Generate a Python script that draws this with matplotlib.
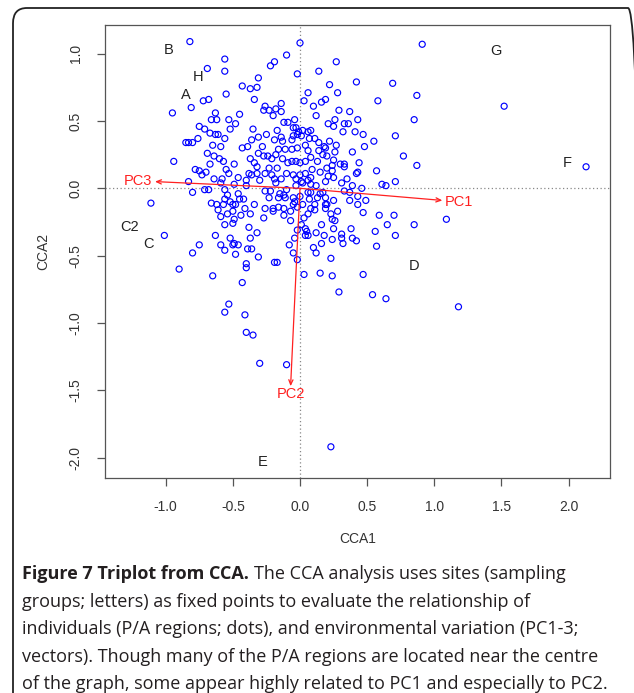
import numpy as np
import matplotlib
matplotlib.use('Agg')
import matplotlib.pyplot as plt
from matplotlib.patches import FancyBboxPatch

# pontos (regiões P/A), coordenadas CCA1 / CCA2
pts = [
  (-0.56,0.96),(-0.10,0.99),(-0.19,0.94),(-0.22,0.91),(-0.69,0.89),(-0.56,0.87),(-0.02,0.85),(-0.31,0.82),
  (-0.43,0.76),(-0.37,0.74),(-0.32,0.75),(-0.55,0.70),(-0.68,0.66),(-0.72,0.65),(-0.34,0.66),(-0.81,0.60),
  (-0.95,0.56),(-0.26,0.61),(-0.14,0.63),(-0.27,0.58),(-0.23,0.58),(-0.18,0.59),(-0.14,0.57),(-0.63,0.56),
  (-0.45,0.55),(-0.66,0.51),(-0.62,0.51),(-0.53,0.51),(-0.48,0.48),(-0.20,0.54),(-0.12,0.49),(-0.09,0.49),
  (-0.04,0.51),(-0.75,0.46),(-0.71,0.44),(-0.52,0.44),(-0.35,0.44),(-0.17,0.43),(-0.05,0.45),(-0.03,0.45),
  (-0.01,0.42),(-0.67,0.41),(-0.63,0.40),(-0.61,0.40),(-0.56,0.37),(-0.25,0.40),(-0.31,0.38),(-0.14,0.38),
  (-0.05,0.39),(-0.02,0.40),(-0.76,0.37),(-0.85,0.34),(-0.83,0.34),(-0.80,0.34),(-0.36,0.36),(-0.19,0.36),
  (-0.13,0.35),(-0.06,0.36),(-0.65,0.32),(-0.59,0.31),(-0.43,0.30),(-0.39,0.31),(-0.28,0.31),(-0.16,0.29),
  (-0.11,0.29),(-0.06,0.29),(-0.02,0.30),(-0.69,0.26),(-0.64,0.24),(-0.31,0.26),(-0.27,0.24),(-0.24,0.24),
  (-0.21,0.22),(-0.18,0.25),(-0.13,0.22),(-0.94,0.20),(-0.60,0.22),(-0.57,0.20),(-0.37,0.22),(-0.34,0.19),
  (-0.67,0.18),(-0.49,0.18),(-0.09,0.19),(-0.06,0.20),(-0.03,0.20),(0.00,0.19),(-0.17,0.15),(-0.23,0.15),
  (-0.32,0.16),(-0.78,0.14),(-0.75,0.13),(-0.73,0.10),(-0.70,0.12),(-0.55,0.14),(-0.38,0.11),(-0.36,0.10),
  (-0.32,0.11),(-0.26,0.11),(-0.21,0.10),(-0.10,0.11),(-0.05,0.10),(0.00,0.10),(-0.53,0.11),(-0.46,0.08),
  (-0.64,0.07),(-0.58,0.07),(-0.40,0.06),(-0.30,0.06),(-0.19,0.07),(-0.14,0.07),(-0.03,0.07),(-0.83,0.05),
  (-0.59,0.04),(-0.49,0.03),(-0.40,0.02),(-0.18,0.04),(-0.03,0.02),
  (0.27,0.94),(0.14,0.87),(0.22,0.77),(0.42,0.79),(0.69,0.78),(0.06,0.71),(0.28,0.71),(0.87,0.69),
  (0.03,0.65),(0.16,0.64),(0.19,0.66),(0.10,0.61),(0.58,0.65),(0.29,0.58),(0.37,0.57),(0.12,0.54),
  (0.85,0.51),(0.43,0.51),(0.26,0.51),(0.21,0.48),(0.25,0.46),(0.33,0.48),(0.36,0.48),(0.32,0.42),
  (0.41,0.42),(0.47,0.40),(0.71,0.39),(0.55,0.35),(0.48,0.31),(0.02,0.43),(0.06,0.42),(0.08,0.43),
  (0.01,0.39),(0.07,0.37),(0.11,0.37),(0.22,0.35),(0.27,0.32),(0.04,0.32),(0.14,0.34),(0.18,0.31),
  (0.06,0.28),(0.14,0.28),(0.19,0.30),(0.26,0.27),(0.39,0.27),(0.17,0.25),(0.77,0.24),(0.08,0.23),
  (0.13,0.20),(0.20,0.24),(0.25,0.21),(0.44,0.19),(0.87,0.17),(0.33,0.18),(0.30,0.18),(0.33,0.16),
  (0.24,0.17),(0.04,0.20),(0.09,0.14),(0.15,0.12),(0.20,0.15),(0.24,0.13),(0.42,0.11),(0.43,0.12),
  (0.57,0.13),(0.04,0.11),(0.08,0.08),(0.21,0.09),(0.25,0.08),(0.35,0.07),(0.01,0.05),(0.06,0.06),
  (0.19,0.05),(0.31,0.04),(0.71,0.05),(0.39,0.02),(0.61,0.03),(0.64,0.02),(0.08,0.03),(0.12,0.02),
  (0.02,0.04),
  (0.91,1.07),(1.52,0.61),(2.13,0.16),(1.09,-0.23),(0.00,1.08),(-0.82,1.09),(-1.11,-0.11),(1.18,-0.88),
  (0.23,-1.92),(-0.40,-1.07),(-0.35,-1.09),(-0.30,-1.30),(-0.10,-1.31),
  (0.33,-0.02),(0.37,-0.03),(0.46,0.00),(0.06,-0.03),(0.08,-0.03),(0.00,-0.06),(0.07,-0.08),(0.13,-0.07),
  (0.15,-0.04),(0.17,-0.03),(0.19,-0.07),(0.25,-0.09),(0.37,-0.09),(0.43,-0.06),(0.49,-0.09),(0.43,-0.12),
  (0.02,-0.12),(0.11,-0.12),(0.19,-0.12),(0.20,-0.12),(0.19,-0.15),(0.08,-0.15),(0.11,-0.16),(0.06,-0.19),
  (0.03,-0.22),(0.28,-0.17),(0.23,-0.19),(0.24,-0.23),(0.26,-0.24),(0.47,-0.18),(0.59,-0.20),(0.70,-0.20),
  (0.65,-0.27),(0.85,-0.27),(0.71,-0.35),(0.56,-0.32),(0.57,-0.43),(0.01,-0.27),(0.16,-0.27),(0.25,-0.30),
  (0.38,-0.30),(0.04,-0.30),(0.05,-0.32),(0.12,-0.33),(0.18,-0.35),(0.04,-0.35),(0.06,-0.35),(0.31,-0.34),
  (0.31,-0.37),(0.24,-0.38),(0.39,-0.37),(0.42,-0.39),(0.32,-0.41),(0.16,-0.41),(0.10,-0.44),(0.12,-0.48),
  (0.23,-0.52),(0.03,-0.64),(0.15,-0.63),(0.24,-0.65),(0.47,-0.64),(0.29,-0.77),(0.54,-0.79),(0.64,-0.82),
  (-0.80,-0.03),(-0.71,-0.01),(-0.68,-0.01),(-0.56,-0.01),(-0.46,-0.04),(-0.54,-0.05),(-0.56,-0.08),(-0.52,-0.10),
  (-0.50,-0.12),(-0.48,-0.12),(-0.45,-0.08),(-0.42,-0.08),(-0.66,-0.11),(-0.62,-0.12),(-0.61,-0.16),(-0.57,-0.12),
  (-0.41,-0.15),(-0.34,-0.12),(-0.26,-0.02),(-0.22,-0.02),(-0.15,-0.04),(-0.10,-0.01),(-0.23,-0.07),(-0.16,-0.07),
  (-0.12,-0.05),(-0.11,-0.07),(-0.05,-0.07),(-0.04,-0.10),(-0.05,-0.12),(-0.26,-0.15),(-0.20,-0.15),(-0.20,-0.17),
  (-0.16,-0.14),(-0.12,-0.15),(-0.07,-0.17),(-0.02,-0.14),(-0.50,-0.17),(-0.54,-0.19),(-0.44,-0.20),(-0.37,-0.19),
  (-0.59,-0.21),(-0.49,-0.23),(-0.50,-0.26),(-0.56,-0.27),(-0.27,-0.22),(-0.12,-0.20),(-0.07,-0.24),(-0.38,-0.29),
  (-0.02,-0.31),(-1.01,-0.35),(-0.63,-0.35),(-0.32,-0.33),(-0.37,-0.37),(-0.52,-0.37),(-0.04,-0.37),(-0.75,-0.42),
  (-0.59,-0.42),(-0.49,-0.41),(-0.46,-0.42),(-0.50,-0.42),(-0.08,-0.42),(-0.80,-0.48),(-0.56,-0.46),(-0.39,-0.45),
  (-0.36,-0.45),(-0.48,-0.49),(-0.05,-0.48),(-0.31,-0.51),(-0.19,-0.55),(-0.17,-0.55),(-0.02,-0.53),(-0.40,-0.56),
  (-0.40,-0.59),(-0.90,-0.60),(-0.65,-0.65),(-0.43,-0.70),(-0.53,-0.86),(-0.56,-0.92),(-0.41,-0.94),
]
px = np.array([p[0] for p in pts])
py = np.array([p[1] for p in pts])

# sites (grupos de amostragem)
sites = ['B', 'H', 'A', 'G', 'F', 'C2', 'C', 'D', 'E']
site_x = [-0.98, -0.76, -0.85, 1.46, 1.99, -1.27, -1.13, 0.85, -0.28]
site_y = [1.03, 0.83, 0.69, 1.02, 0.19, -0.29, -0.41, -0.58, -2.03]

# vetores ambientais
vec = ['PC1', 'PC2', 'PC3']
vec_x = [1.06, -0.07, -1.08]
vec_y = [-0.09, -1.47, 0.05]
vec_lx = [1.18, -0.07, -1.21]
vec_ly = [-0.10, -1.53, 0.056]

xticks = [-1.0, -0.5, 0.0, 0.5, 1.0, 1.5, 2.0]
yticks = [-2.0, -1.5, -1.0, -0.5, 0.0, 0.5, 1.0]

plt.rcParams['font.family'] = ['Liberation Sans', 'DejaVu Sans']

fig = plt.figure(figsize=(6.34, 6.93), dpi=100)
ax = fig.add_axes([0.1656, 0.3102, 0.7965, 0.6537])

ax.axhline(0, color='#888888', linestyle=(0, (1, 2)), linewidth=0.9, zorder=1)
ax.axvline(0, color='#888888', linestyle=(0, (1, 2)), linewidth=0.9, zorder=1)
ax.scatter(px, py, s=19, facecolors='none', edgecolors='#0000ff', linewidths=0.85, zorder=2)

for s, x, y in zip(sites, site_x, site_y):
  ax.text(x, y, s, ha='center', va='center', fontsize=10.5, color='#222222', zorder=3)

for v, x, y, lx, ly in zip(vec, vec_x, vec_y, vec_lx, vec_ly):
  ax.annotate('', xy=(x, y), xytext=(0, 0),
              arrowprops=dict(arrowstyle='->,head_length=0.35,head_width=0.15', color='#ff2020', lw=0.9, shrinkA=0, shrinkB=0), zorder=4)
  ax.text(lx, ly, v, ha='center', va='center', fontsize=10.5, color='#ff2020', zorder=4)

ax.set_xlim(-1.452, 2.308)
ax.set_ylim(-2.152, 1.213)
ax.set_xticks(xticks)
ax.set_yticks(yticks)
ax.set_xticklabels(['%.1f' % t for t in xticks])
ax.set_yticklabels(['%.1f' % t for t in yticks], rotation=90, va='center')
ax.tick_params(direction='out', length=6, width=0.9, color='#555555', labelsize=10, labelcolor='#333333', pad=10)
for sp in ax.spines.values():
  sp.set_color('#555555')
  sp.set_linewidth(0.9)
ax.set_xlabel('CCA1', fontsize=10, color='#333333', labelpad=13)
ax.set_ylabel('CCA2', fontsize=10, color='#333333', labelpad=13)

# moldura arredondada (lado direito e base ficam fora da imagem)
frame = FancyBboxPatch((13/634, -0.1), (642 - 13)/634, 1.1 - 8/693, transform=fig.transFigure,
                       boxstyle='round,pad=0,rounding_size=0.022', fill=False,
                       edgecolor='#222222', linewidth=1.3, clip_on=False)
fig.patches.append(frame)

# legenda da figura
cap_col = '#231f20'
cap_font = ['Open Sans', 'DejaVu Sans']
fs = 13.0
lines = ['groups; letters) as fixed points to evaluate the relationship of',
         'individuals (P/A regions; dots), and environmental variation (PC1-3;',
         'vectors). Though many of the P/A regions are located near the centre',
         'of the graph, some appear highly related to PC1 and especially to PC2.']
x0 = 22/634
y_first = 1 - 574/693
dy = 27.6/693
b = fig.text(x0, y_first, 'Figure 7 Triplot from CCA.', fontsize=fs, fontweight='bold',
             family=cap_font, color=cap_col, va='center')
fig.canvas.draw()
bb = b.get_window_extent(renderer=fig.canvas.get_renderer())
fig.text(bb.x1/634 + 5/634, y_first, 'The CCA analysis uses sites (sampling', fontsize=fs,
         family=cap_font, color=cap_col, va='center')
for i, t in enumerate(lines):
  fig.text(x0, y_first - (i+1)*dy, t, fontsize=fs, family=cap_font, color=cap_col, va='center')

fig.savefig('out.png', dpi=100)
